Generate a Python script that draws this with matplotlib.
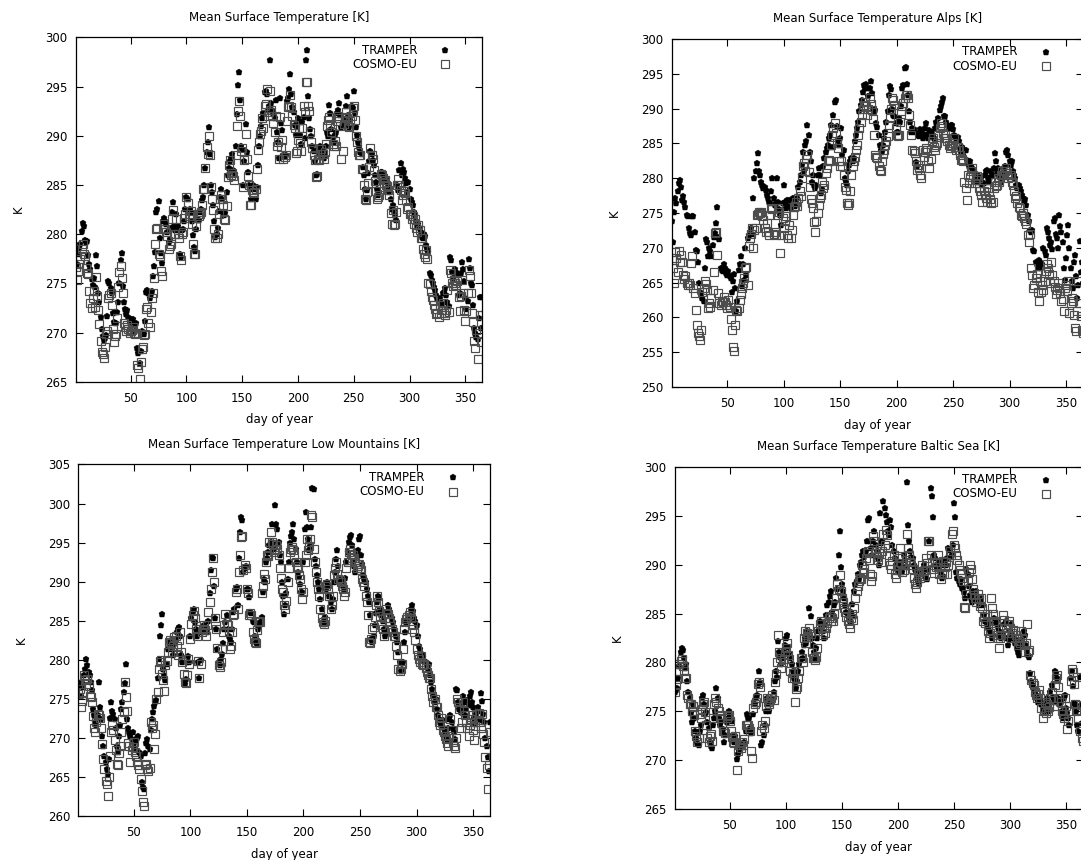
import numpy as np
import matplotlib
matplotlib.use("Agg")
import matplotlib.pyplot as plt

# daily mean surface temperature [K], day 1..365
tramper_all = [
278.3, 277.0, 278.0, 278.6, 279.0, 280.3, 281.1, 280.8, 279.4, 279.2,
279.3, 277.9, 277.0, 276.5, 275.4, 274.8, 275.5, 274.6, 277.9, 276.8,
274.0, 273.1, 271.6, 270.4, 269.6, 269.2, 269.4, 269.7, 271.7, 275.2,
275.0, 274.5, 274.0, 272.0, 271.1, 272.1, 271.0, 272.1, 273.1, 275.0,
277.4, 278.1, 274.7, 273.1, 272.4, 271.9, 272.3, 271.6, 271.1, 271.4,
271.1, 271.4, 270.8, 270.2, 271.0, 268.4, 267.9, 266.9, 268.1, 270.2,
270.0, 269.8, 271.2, 274.1, 274.3, 274.0, 273.5, 273.9, 274.2, 275.7,
276.8, 278.2, 282.3, 282.6, 283.4, 279.6, 278.1, 277.1, 281.3, 281.6,
281.3, 281.0, 280.2, 279.2, 279.5, 280.6, 282.3, 283.3, 280.8, 280.4,
282.0, 280.8, 280.4, 278.0, 277.7, 280.4, 280.5, 281.3, 282.6, 283.8,
283.6, 282.5, 282.6, 282.3, 281.3, 279.9, 278.7, 278.3, 280.5, 281.4,
281.4, 282.3, 282.6, 283.5, 283.8, 285.0, 286.7, 288.4, 289.4, 290.9,
288.2, 285.0, 284.3, 283.0, 281.3, 279.7, 280.0, 280.6, 282.4, 283.8,
284.6, 283.6, 282.3, 281.9, 282.2, 284.3, 286.0, 286.7, 287.4, 287.7,
288.2, 286.5, 286.2, 289.0, 292.2, 295.2, 296.5, 293.6, 289.0, 288.7,
285.0, 287.4, 291.2, 288.4, 286.3, 285.0, 284.6, 283.6, 284.8, 285.0,
284.6, 283.6, 284.8, 287.0, 289.0, 290.0, 291.0, 291.8, 292.3, 294.5,
294.6, 294.3, 292.6, 293.0, 297.7, 293.3, 292.6, 292.3, 291.8, 293.6,
290.4, 289.4, 287.7, 293.8, 291.3, 290.6, 288.0, 287.9, 288.1, 293.5,
293.8, 294.8, 296.3, 294.3, 292.9, 292.4, 291.1, 290.1, 290.9, 291.8,
291.5, 290.1, 289.2, 291.4, 291.9, 289.8, 297.7, 298.7, 294.0, 291.8,
290.7, 290.0, 289.0, 288.5, 287.4, 286.0, 286.1, 288.7, 288.2, 289.0,
287.9, 288.5, 287.7, 288.4, 289.0, 290.4, 290.0, 293.1, 292.3, 290.7,
289.9, 289.4, 290.1, 290.4, 292.3, 292.6, 293.3, 292.1, 290.9, 291.2,
291.6, 291.2, 293.0, 294.0, 292.1, 290.9, 291.6, 293.0, 292.8, 294.6,
292.3, 290.9, 290.1, 289.4, 288.9, 288.4, 288.2, 286.8, 286.0, 284.6,
283.6, 284.5, 286.2, 287.4, 288.5, 288.2, 287.5, 287.0, 286.0, 285.3,
284.6, 284.0, 284.3, 286.3, 286.3, 286.0, 285.7, 285.5, 285.6, 285.3,
284.8, 284.3, 283.6, 282.6, 283.0, 282.4, 281.9, 281.4, 285.0, 284.5,
286.5, 287.2, 286.0, 286.6, 286.3, 285.7, 285.2, 284.3, 285.3, 284.6,
283.6, 283.3, 283.0, 282.3, 281.9, 281.3, 280.7, 281.0, 280.6, 280.2,
279.7, 279.6, 280.0, 279.8, 278.9, 278.5, 278.2, 276.0, 275.8, 275.3,
275.0, 274.6, 274.3, 273.8, 273.5, 273.1, 273.5, 272.8, 273.0, 274.0,
274.1, 274.5, 273.8, 273.1, 272.7, 277.7, 277.4, 276.2, 275.5, 276.3,
276.5, 276.2, 275.8, 273.8, 274.0, 276.0, 277.2, 276.5, 275.2, 273.5,
272.4, 273.2, 277.5, 276.6, 275.0, 274.8, 272.8, 270.5, 270.0, 269.5,
269.3, 271.5, 273.6, 270.5, 273.6]

cosmo_all = [
276.7, 275.3, 276.3, 277.0, 277.5, 278.5, 279.0, 278.0, 277.8, 276.6,
276.0, 275.9, 274.2, 273.0, 272.5, 273.5, 274.2, 272.6, 275.6, 273.7,
272.3, 270.9, 269.1, 268.0, 267.8, 267.4, 268.5, 269.8, 270.2, 273.5,
273.8, 274.0, 272.8, 270.4, 269.0, 269.6, 269.8, 271.5, 274.6, 276.2,
276.8, 275.5, 274.0, 271.0, 270.6, 270.2, 270.8, 270.4, 270.0, 270.2,
270.3, 270.6, 270.0, 269.8, 270.0, 266.7, 266.4, 265.3, 267.0, 268.3,
268.5, 269.7, 269.8, 272.4, 272.6, 271.0, 270.6, 272.1, 273.5, 274.0,
275.5, 279.0, 280.5, 280.6, 278.0, 277.8, 276.3, 275.7, 280.5, 281.0,
280.5, 280.2, 279.8, 278.5, 278.8, 279.0, 281.5, 282.5, 280.0, 280.0,
281.5, 280.0, 279.6, 277.8, 277.4, 280.0, 280.2, 281.6, 282.0, 283.8,
283.2, 281.8, 282.0, 282.4, 281.0, 279.0, 278.0, 278.0, 280.8, 282.0,
281.8, 282.0, 282.3, 283.0, 284.6, 284.6, 286.7, 288.9, 288.2, 290.0,
288.0, 284.8, 283.6, 282.5, 280.5, 279.6, 279.6, 280.0, 282.0, 283.6,
284.0, 283.6, 283.0, 281.5, 281.4, 282.9, 285.8, 287.0, 287.5, 286.0,
286.2, 285.9, 285.5, 288.0, 291.0, 292.5, 293.5, 292.0, 288.5, 288.8,
284.8, 287.5, 290.2, 287.6, 285.9, 285.0, 283.0, 283.0, 284.5, 284.2,
284.3, 284.6, 286.6, 288.6, 289.4, 290.2, 290.5, 291.8, 290.8, 293.0,
293.2, 294.8, 292.0, 292.4, 294.6, 292.6, 292.0, 291.3, 290.4, 292.0,
289.0, 289.4, 287.6, 291.9, 288.9, 289.6, 287.6, 287.8, 288.0, 291.5,
292.9, 293.0, 294.2, 292.9, 292.0, 291.1, 290.8, 288.3, 288.5, 289.6,
290.8, 289.3, 288.5, 290.8, 293.0, 292.4, 295.5, 295.5, 293.0, 292.5,
290.4, 289.4, 288.8, 288.0, 287.5, 285.8, 285.9, 287.6, 287.5, 288.2,
288.7, 288.2, 287.6, 288.4, 289.2, 291.0, 291.6, 291.9, 291.2, 290.4,
289.2, 289.0, 289.5, 289.0, 291.5, 292.0, 291.8, 291.0, 287.6, 288.5,
291.2, 291.9, 292.4, 291.8, 291.0, 290.9, 291.5, 292.0, 292.8, 293.0,
291.6, 290.0, 289.4, 288.4, 288.1, 288.0, 286.6, 286.6, 285.0, 283.6,
283.5, 284.3, 285.2, 286.8, 288.8, 288.0, 287.6, 286.5, 285.4, 284.4,
283.6, 283.8, 284.0, 286.1, 286.0, 285.7, 285.2, 285.5, 285.0, 284.9,
284.5, 284.0, 282.2, 281.0, 282.5, 280.9, 281.0, 282.3, 285.0, 285.6,
285.0, 284.5, 283.5, 284.0, 284.4, 284.2, 283.5, 282.6, 282.8, 282.0,
282.0, 281.5, 281.8, 281.0, 281.5, 280.6, 280.2, 280.9, 280.4, 279.6,
279.6, 278.5, 278.0, 277.7, 278.4, 277.5, 275.0, 274.9, 274.2, 273.6,
273.3, 272.8, 272.4, 271.9, 272.0, 271.6, 272.8, 272.0, 272.3, 273.0,
272.0, 271.8, 272.3, 274.3, 272.1, 276.4, 276.0, 275.0, 274.7, 275.3,
275.0, 274.8, 275.2, 273.6, 272.2, 273.7, 275.3, 274.0, 272.3, 271.2,
272.2, 274.0, 276.4, 275.7, 274.0, 272.0, 271.1, 269.1, 268.4, 270.3,
267.3, 270.0, 271.8, 269.0, 271.8]

tramper_alps = [
273.8, 270.9, 275.2, 277.1, 276.5, 278.1, 279.3, 279.8, 278.8, 276.9,
277.4, 276.6, 275.9, 274.7, 274.5, 272.8, 272.1, 271.9, 274.5, 274.6,
272.3, 269.7, 269.5, 268.0, 264.9, 263.7, 263.3, 262.8, 262.3, 267.1,
271.2, 270.9, 268.8, 270.0, 269.5, 268.8, 270.4, 271.6, 272.1, 273.5,
275.9, 271.6, 271.2, 267.1, 266.8, 266.6, 267.6, 267.1, 266.4, 266.1,
266.6, 266.0, 265.6, 263.7, 265.2, 266.2, 264.2, 260.9, 262.3, 266.8,
267.6, 268.8, 264.5, 267.6, 265.4, 270.0, 266.1, 271.4, 271.9, 272.3,
272.8, 272.0, 277.1, 280.0, 281.0, 282.2, 283.6, 281.0, 280.5, 279.5,
279.0, 278.6, 278.8, 278.3, 277.6, 277.1, 276.6, 276.4, 278.1, 280.0,
277.1, 276.2, 276.4, 280.0, 276.6, 275.5, 274.7, 273.3, 276.4, 279.0,
276.6, 275.7, 276.8, 276.0, 276.8, 275.7, 276.2, 277.1, 276.8, 276.0,
276.8, 277.1, 278.8, 279.5, 280.5, 281.9, 283.8, 281.0, 284.8, 285.3,
287.7, 286.2, 283.8, 282.4, 279.5, 280.5, 279.0, 278.6, 279.0, 280.5,
281.5, 280.5, 277.8, 278.5, 281.7, 282.9, 283.8, 284.3, 284.8, 285.7,
286.2, 287.7, 284.5, 289.1, 291.0, 291.2, 287.5, 285.5, 284.8, 285.7,
287.2, 283.3, 284.0, 280.0, 279.5, 279.0, 281.0, 281.9, 282.4, 282.9,
282.4, 282.9, 285.3, 286.2, 287.2, 288.1, 289.6, 290.5, 291.2, 292.4,
293.4, 292.9, 293.6, 292.9, 291.8, 293.0, 293.9, 292.2, 290.0, 289.6,
289.8, 287.9, 287.4, 286.2, 284.8, 284.1, 283.8, 284.8, 285.7, 286.7,
288.1, 289.6, 292.0, 293.2, 292.8, 290.0, 289.1, 288.9, 287.9, 286.7,
286.7, 288.6, 288.0, 290.3, 292.9, 293.4, 295.8, 296.0, 293.6, 292.0,
289.6, 288.1, 286.7, 287.2, 287.0, 286.7, 282.3, 281.7, 286.2, 286.0,
287.0, 286.7, 285.7, 286.4, 287.2, 287.9, 286.2, 285.7, 286.9, 286.0,
286.7, 286.2, 285.7, 287.2, 288.1, 287.7, 288.6, 289.8, 290.3, 291.0,
291.5, 289.0, 288.9, 288.0, 287.7, 287.2, 287.5, 287.7, 287.7, 287.0,
286.2, 286.0, 285.7, 285.9, 285.3, 284.3, 283.8, 284.5, 283.3, 284.0,
284.1, 282.6, 282.2, 281.7, 282.5, 281.7, 281.4, 281.0, 280.5, 280.0,
279.5, 280.3, 280.3, 279.5, 280.0, 279.0, 279.3, 280.5, 281.0, 281.2,
280.0, 279.5, 280.2, 281.0, 280.5, 281.4, 283.6, 282.4, 281.0, 281.5,
280.3, 279.5, 280.0, 280.5, 281.4, 281.8, 283.8, 284.0, 283.3, 282.4,
281.9, 282.5, 281.0, 280.5, 280.0, 279.0, 278.6, 279.0, 278.6, 278.1,
277.6, 277.1, 276.6, 277.0, 276.2, 274.7, 273.8, 272.6, 272.3, 272.5,
269.7, 269.5, 268.0, 267.6, 267.1, 268.3, 268.0, 267.1, 267.6, 270.0,
269.5, 269.0, 272.8, 272.3, 271.4, 270.4, 270.9, 269.8, 273.8, 274.3,
272.0, 271.4, 270.0, 274.7, 273.1, 272.3, 270.9, 267.1, 265.4, 268.5,
271.9, 273.3, 270.0, 267.1, 265.2, 264.2, 268.0, 269.0, 266.0, 262.8,
264.7, 271.0, 266.5, 268.0, 265.0]

cosmo_alps = [
268.3, 267.1, 265.0, 269.4, 268.5, 266.5, 269.5, 268.0, 269.0, 268.0,
266.1, 265.5, 266.0, 264.9, 264.7, 265.0, 264.7, 267.8, 268.8, 264.2,
263.5, 261.1, 258.9, 257.8, 257.3, 256.8, 258.2, 263.7, 264.2, 265.2,
264.8, 264.0, 261.3, 262.0, 261.5, 262.8, 264.0, 266.5, 272.1, 272.3,
269.0, 263.5, 262.0, 261.8, 262.4, 262.2, 263.0, 262.2, 261.8, 261.4,
262.5, 261.5, 259.7, 258.2, 255.8, 255.1, 258.9, 261.0, 260.9, 261.3,
262.5, 263.3, 264.2, 264.9, 265.6, 267.1, 267.3, 264.6, 270.2, 271.4,
272.0, 272.8, 270.0, 272.5, 272.8, 274.7, 274.9, 275.2, 275.0, 275.2,
274.5, 274.0, 272.8, 272.3, 273.5, 272.3, 271.9, 274.7, 275.7, 275.5,
272.0, 272.3, 271.9, 274.7, 275.7, 275.2, 269.2, 271.9, 274.3, 272.8,
273.8, 274.5, 271.9, 271.4, 273.3, 271.4, 272.5, 274.7, 275.9, 276.0,
276.6, 276.0, 277.1, 278.1, 277.5, 280.0, 281.7, 282.2, 281.0, 282.8,
283.3, 280.9, 278.8, 277.0, 276.4, 275.7, 273.7, 272.3, 273.9, 275.0,
276.2, 277.1, 277.6, 279.5, 278.6, 279.0, 280.7, 281.4, 282.4, 282.6,
282.4, 284.8, 286.2, 287.2, 287.9, 286.5, 285.0, 284.3, 282.4, 281.7,
282.4, 281.7, 280.5, 278.8, 278.3, 276.4, 276.2, 276.4, 278.1, 280.5,
281.7, 282.4, 283.0, 284.1, 284.8, 286.2, 287.2, 288.1, 289.1, 290.0,
290.5, 291.0, 290.3, 289.1, 290.0, 291.5, 290.6, 289.8, 288.5, 286.2,
283.3, 283.0, 282.9, 281.7, 281.2, 281.0, 282.4, 283.5, 284.0, 284.8,
285.3, 286.0, 287.7, 288.6, 290.0, 291.5, 291.2, 290.5, 287.2, 286.2,
286.0, 286.2, 288.1, 289.6, 290.3, 290.8, 291.5, 292.0, 292.0, 291.5,
289.1, 287.7, 286.2, 284.1, 283.9, 283.6, 282.4, 281.2, 281.9, 281.4,
280.5, 280.0, 284.1, 283.0, 283.8, 284.3, 284.0, 282.4, 281.4, 282.8,
285.3, 285.7, 284.5, 284.1, 284.8, 285.0, 286.2, 287.2, 287.9, 287.5,
286.5, 285.8, 286.2, 285.7, 285.3, 284.8, 284.3, 284.6, 284.8, 285.0,
285.7, 284.5, 284.1, 284.5, 284.1, 283.3, 282.6, 282.8, 282.4, 279.5,
278.6, 276.9, 280.5, 279.3, 280.2, 281.0, 281.4, 280.5, 279.3, 279.8,
280.3, 280.0, 278.6, 278.1, 277.6, 276.6, 278.1, 277.6, 277.1, 276.6,
278.6, 278.0, 277.0, 276.4, 276.6, 278.6, 279.5, 278.9, 279.0, 280.0,
279.5, 280.5, 281.0, 280.5, 280.5, 281.0, 281.4, 280.7, 280.0, 280.4,
280.2, 279.5, 279.0, 278.1, 277.1, 277.5, 276.4, 275.9, 275.7, 274.7,
274.5, 275.0, 274.3, 273.8, 273.4, 271.9, 270.9, 272.0, 267.1, 266.1,
264.2, 264.7, 265.6, 266.3, 263.7, 262.3, 265.2, 263.7, 264.6, 264.0,
265.2, 266.6, 267.6, 267.1, 266.2, 265.0, 268.0, 266.1, 265.2, 264.4,
263.3, 264.0, 265.0, 264.2, 263.5, 262.3, 262.6, 260.9, 264.2, 264.7,
263.8, 265.2, 260.6, 262.0, 262.8, 262.3, 260.4, 258.5, 258.0, 260.9,
265.2, 262.1, 260.2, 258.2, 257.7]

tramper_low = [
277.1, 276.7, 275.4, 277.0, 276.5, 278.0, 278.8, 280.1, 279.3, 278.4,
278.0, 277.1, 276.1, 273.7, 272.9, 272.0, 271.6, 272.9, 277.1, 273.9,
272.4, 270.3, 269.0, 267.7, 266.9, 266.0, 265.4, 267.3, 272.6, 274.6,
273.5, 273.0, 272.4, 271.2, 269.0, 268.2, 270.3, 271.6, 273.7, 274.6,
275.9, 277.0, 279.5, 272.4, 271.2, 270.7, 270.3, 269.9, 270.7, 269.4,
268.6, 269.7, 270.0, 270.3, 268.2, 267.7, 264.3, 263.7, 263.5, 268.0,
269.4, 269.9, 269.0, 268.6, 271.0, 272.4, 273.3, 274.1, 274.6, 274.8,
277.6, 280.1, 283.1, 284.4, 285.9, 278.8, 278.0, 277.4, 279.5, 281.4,
282.1, 282.3, 282.5, 281.4, 280.6, 282.0, 282.7, 283.5, 284.0, 284.2,
283.1, 280.6, 279.7, 277.1, 276.9, 277.5, 279.7, 280.5, 279.7, 283.1,
285.3, 286.1, 286.5, 284.8, 284.0, 283.1, 279.7, 277.6, 280.0, 283.5,
284.0, 284.4, 283.8, 284.2, 283.5, 285.0, 288.5, 291.5, 293.2, 293.0,
289.5, 285.3, 284.0, 281.4, 279.7, 279.3, 280.1, 280.8, 282.1, 284.0,
284.8, 285.7, 284.0, 283.1, 282.7, 282.3, 284.0, 286.1, 286.5, 289.1,
289.3, 287.0, 293.0, 296.4, 298.3, 297.9, 291.2, 291.7, 292.0, 289.1,
289.1, 288.0, 286.1, 286.0, 285.0, 284.8, 283.1, 282.3, 282.0, 284.0,
284.4, 284.8, 285.5, 288.7, 290.4, 290.0, 292.5, 293.0, 293.8, 294.7,
295.1, 297.4, 295.0, 294.2, 299.8, 297.4, 296.8, 295.1, 293.4, 292.5,
290.0, 288.2, 285.9, 287.0, 288.5, 290.4, 292.5, 294.9, 295.9, 296.4,
297.4, 295.5, 294.2, 292.5, 291.2, 290.6, 289.7, 288.7, 288.7, 292.5,
296.8, 298.9, 297.0, 295.5, 294.0, 294.5, 297.0, 302.0, 301.9, 292.9,
292.0, 290.8, 290.0, 289.1, 287.8, 286.5, 284.8, 284.6, 285.5, 289.1,
290.0, 289.5, 288.2, 287.4, 286.5, 287.8, 290.0, 291.2, 292.9, 294.0,
292.0, 290.4, 290.2, 290.0, 289.5, 288.9, 290.5, 292.5, 293.8, 295.1,
295.7, 296.0, 294.7, 292.5, 292.0, 291.2, 293.4, 294.0, 295.5, 295.8,
293.4, 292.3, 290.8, 290.4, 290.0, 289.1, 288.2, 287.4, 285.7, 282.7,
282.3, 283.1, 284.4, 286.0, 287.4, 288.2, 288.0, 286.5, 285.7, 285.0,
284.0, 283.1, 283.5, 286.1, 287.0, 286.5, 285.7, 285.3, 284.8, 284.0,
283.6, 283.1, 282.3, 281.0, 279.7, 278.6, 278.8, 279.7, 282.3, 283.5,
284.8, 285.0, 285.5, 285.7, 286.5, 287.0, 286.3, 285.3, 285.0, 284.4,
283.1, 281.8, 281.4, 280.6, 280.8, 280.3, 279.9, 279.7, 279.3, 278.8,
279.5, 278.0, 277.1, 276.3, 275.4, 274.6, 275.0, 273.7, 272.9, 272.4,
272.0, 271.6, 272.3, 271.2, 270.7, 270.3, 269.9, 271.2, 272.4, 272.9,
272.0, 271.2, 270.7, 269.8, 276.3, 276.1, 274.6, 273.7, 273.3, 274.0,
275.4, 274.6, 272.9, 273.7, 274.9, 274.2, 275.4, 275.9, 274.6, 273.9,
272.5, 271.8, 273.0, 274.0, 273.5, 272.3, 275.7, 274.7, 273.0, 272.0,
270.0, 268.9, 267.5, 265.7, 272.0]

cosmo_low = [
275.6, 276.3, 273.9, 274.7, 275.9, 278.0, 277.4, 276.9, 277.5, 276.6,
275.4, 275.2, 274.6, 272.8, 271.2, 270.7, 272.0, 273.0, 272.9, 272.5,
271.2, 269.2, 267.3, 266.0, 264.5, 264.1, 262.6, 265.0, 267.7, 270.7,
271.6, 271.0, 269.7, 268.4, 266.7, 266.5, 268.0, 269.0, 270.7, 272.4,
273.3, 277.1, 275.2, 273.5, 269.4, 269.0, 266.9, 268.5, 268.8, 269.5,
268.2, 267.7, 266.9, 266.5, 266.0, 264.7, 263.2, 261.8, 261.3, 266.5,
266.7, 266.0, 265.8, 266.2, 272.0, 271.2, 271.6, 268.6, 270.5, 275.0,
275.9, 278.8, 279.7, 280.0, 278.2, 277.4, 276.0, 279.3, 279.9, 281.0,
282.3, 282.5, 282.1, 281.0, 281.7, 282.9, 283.1, 281.8, 280.6, 282.5,
283.5, 281.0, 279.7, 278.2, 277.1, 277.0, 278.0, 280.1, 279.5, 282.7,
284.6, 285.7, 286.2, 285.3, 284.0, 283.1, 279.9, 277.6, 279.5, 283.5,
284.0, 284.4, 283.8, 283.1, 284.5, 286.1, 287.4, 289.1, 291.2, 293.0,
290.0, 285.3, 284.0, 281.5, 279.3, 279.1, 279.7, 281.4, 283.5, 284.4,
285.9, 284.6, 284.4, 283.5, 281.4, 281.8, 283.5, 285.7, 285.9, 288.7,
289.1, 286.5, 291.2, 293.4, 295.7, 295.9, 291.5, 292.1, 291.8, 289.1,
288.5, 285.7, 286.0, 285.7, 283.5, 282.7, 282.3, 282.1, 283.8, 284.8,
285.0, 284.8, 288.5, 289.5, 291.0, 290.3, 292.5, 293.4, 293.3, 295.1,
296.4, 295.1, 294.8, 293.8, 294.0, 294.7, 294.2, 293.4, 291.7, 290.5,
289.1, 288.7, 287.0, 286.5, 287.5, 290.0, 291.7, 293.8, 294.2, 294.4,
294.0, 293.4, 292.5, 292.0, 291.7, 290.8, 290.4, 289.1, 287.8, 288.7,
292.5, 293.4, 295.5, 294.0, 294.5, 295.5, 298.5, 298.3, 294.2, 292.5,
291.2, 290.0, 289.0, 288.2, 286.5, 285.3, 284.8, 284.6, 285.0, 289.5,
289.7, 289.1, 288.2, 286.5, 287.0, 288.2, 290.8, 291.7, 292.5, 291.0,
290.4, 290.2, 290.0, 289.5, 289.1, 288.2, 288.7, 291.7, 292.5, 293.8,
294.2, 293.5, 293.0, 293.4, 293.0, 292.5, 291.7, 292.0, 292.2, 291.7,
291.5, 290.4, 290.0, 289.5, 288.2, 287.4, 285.7, 282.3, 282.1, 282.7,
284.0, 284.2, 285.5, 287.0, 288.2, 287.4, 286.3, 285.6, 284.4, 284.0,
283.1, 285.3, 286.5, 286.0, 285.9, 285.3, 284.8, 284.0, 283.5, 283.1,
283.0, 281.8, 280.6, 278.8, 278.5, 278.8, 279.5, 281.4, 284.0, 284.8,
285.2, 285.5, 285.7, 286.1, 285.3, 284.0, 284.5, 283.5, 282.5, 281.4,
280.6, 280.1, 279.7, 280.5, 279.5, 279.3, 279.5, 279.0, 278.4, 278.0,
277.6, 277.6, 276.3, 275.4, 274.6, 275.0, 274.0, 273.9, 272.9, 272.0,
271.6, 272.5, 271.0, 270.7, 270.3, 269.9, 269.4, 269.0, 270.3, 272.4,
271.0, 269.5, 269.0, 268.7, 270.0, 275.0, 274.6, 273.7, 271.2, 272.0,
274.6, 273.5, 272.9, 272.0, 271.2, 270.3, 271.6, 272.4, 272.9, 271.0,
269.7, 271.5, 273.0, 272.3, 273.2, 272.0, 271.2, 273.0, 270.5, 269.5,
267.6, 266.2, 263.5, 266.5, 270.8]

tramper_baltic = [
277.0, 277.2, 277.4, 278.4, 279.6, 281.1, 281.5, 281.3, 280.5, 279.4,
279.8, 278.1, 277.0, 276.4, 274.8, 273.9, 275.7, 274.3, 273.0, 272.3,
271.8, 271.6, 273.0, 273.6, 276.4, 276.7, 275.7, 274.7, 274.9, 273.9,
273.3, 271.9, 271.4, 271.2, 273.6, 274.3, 275.0, 277.4, 276.4, 274.3,
273.6, 274.0, 273.0, 273.2, 271.9, 272.6, 273.9, 274.3, 275.0, 274.5,
274.3, 274.0, 272.6, 271.9, 272.5, 270.1, 270.6, 270.9, 271.3, 271.6,
271.4, 271.3, 271.9, 273.0, 274.7, 274.3, 274.3, 273.3, 272.8, 273.2,
274.7, 275.7, 276.4, 276.7, 277.7, 279.1, 278.0, 271.6, 271.9, 272.6,
273.6, 275.0, 276.4, 275.7, 275.0, 275.9, 276.4, 276.0, 277.0, 278.1,
279.1, 278.5, 282.2, 281.1, 280.6, 279.8, 280.5, 281.1, 281.8, 282.5,
282.8, 281.6, 281.0, 280.5, 279.8, 279.1, 278.4, 277.9, 277.4, 278.1,
279.1, 279.8, 280.3, 281.1, 280.5, 281.8, 282.5, 282.0, 283.2, 283.0,
285.6, 284.8, 282.5, 281.8, 281.1, 280.5, 281.5, 282.5, 283.2, 284.2,
283.8, 283.9, 283.2, 282.5, 283.9, 284.9, 285.9, 286.2, 286.8, 287.3,
285.2, 284.9, 285.9, 286.2, 288.6, 287.5, 291.0, 293.4, 289.8, 288.0,
287.3, 286.6, 285.9, 285.2, 284.9, 284.5, 284.2, 285.2, 286.0, 284.8,
287.3, 288.0, 288.3, 289.0, 288.5, 290.0, 290.3, 291.0, 291.4, 290.8,
291.4, 292.4, 294.6, 294.8, 292.4, 291.7, 291.0, 292.4, 293.4, 292.0,
291.4, 290.7, 290.0, 295.3, 292.2, 292.4, 296.5, 295.8, 295.1, 294.4,
293.4, 293.0, 294.6, 293.9, 292.0, 291.4, 290.7, 290.0, 289.6, 290.2,
289.3, 290.3, 290.0, 289.3, 291.0, 290.5, 289.8, 298.5, 294.1, 292.4,
291.4, 290.8, 290.7, 290.0, 289.6, 289.3, 288.6, 288.3, 288.0, 289.0,
289.6, 289.2, 290.0, 289.5, 288.6, 288.5, 289.6, 292.4, 297.8, 297.0,
294.9, 291.0, 290.7, 290.0, 289.6, 289.8, 290.3, 289.3, 288.6, 288.8,
290.0, 290.5, 290.0, 290.7, 291.7, 291.5, 290.8, 291.0, 292.0, 296.3,
294.9, 289.3, 288.6, 288.3, 288.0, 288.5, 287.6, 287.6, 287.2, 286.6,
289.6, 289.0, 287.8, 286.9, 286.6, 286.2, 287.3, 287.0, 286.5, 287.3,
286.6, 285.9, 286.2, 286.6, 286.0, 285.9, 284.9, 284.2, 283.9, 283.5,
284.0, 283.2, 283.0, 282.5, 282.8, 284.5, 284.0, 284.2, 283.6, 283.2,
282.8, 282.5, 282.9, 283.0, 283.9, 284.2, 282.5, 281.8, 282.4, 283.2,
283.9, 282.8, 282.5, 282.0, 282.3, 281.5, 281.1, 280.8, 281.6, 281.9,
282.3, 283.2, 282.8, 281.8, 281.1, 280.8, 280.6, 278.9, 278.1, 277.7,
277.4, 277.0, 276.7, 276.4, 276.0, 276.5, 276.2, 275.7, 275.3, 275.0,
276.0, 275.6, 276.4, 275.8, 275.0, 277.0, 277.7, 276.5, 276.0, 279.1,
278.9, 278.4, 276.4, 275.7, 276.0, 275.0, 274.3, 276.4, 276.7, 275.3,
274.8, 274.3, 273.6, 278.4, 279.1, 277.6, 275.8, 275.7, 275.0, 273.6,
273.0, 278.5, 275.6, 273.8, 272.9]

cosmo_baltic = [
277.0, 277.7, 278.3, 279.1, 279.8, 280.1, 280.3, 279.6, 279.1, 278.4,
278.4, 276.7, 276.4, 275.7, 275.7, 275.0, 275.5, 274.6, 273.0, 272.5,
271.9, 272.3, 274.7, 274.3, 275.2, 275.7, 276.0, 274.9, 273.6, 272.3,
271.9, 272.5, 272.7, 272.0, 274.3, 275.7, 276.4, 276.0, 275.3, 275.0,
274.3, 274.6, 273.8, 273.0, 273.0, 272.8, 274.3, 274.5, 274.6, 274.0,
273.0, 272.4, 271.9, 271.8, 272.5, 269.0, 270.9, 271.6, 271.5, 271.2,
271.9, 271.6, 272.2, 273.6, 273.6, 273.6, 273.3, 273.0, 270.9, 270.2,
275.3, 275.7, 276.0, 276.4, 277.8, 278.0, 277.5, 273.0, 273.6, 273.3,
274.0, 275.5, 276.4, 276.0, 275.7, 276.2, 276.4, 276.7, 276.2, 278.0,
278.8, 280.0, 282.8, 281.1, 280.5, 279.4, 280.0, 280.4, 281.1, 281.5,
282.0, 280.8, 280.3, 279.1, 278.4, 278.9, 278.4, 276.0, 277.3, 277.5,
278.4, 279.1, 280.5, 280.5, 280.0, 282.5, 283.2, 282.0, 283.0, 282.6,
283.5, 282.9, 281.1, 280.5, 280.5, 280.2, 280.6, 281.5, 283.2, 283.9,
284.2, 283.5, 282.8, 283.5, 283.0, 283.5, 284.0, 284.5, 284.8, 284.2,
284.5, 284.2, 285.0, 285.9, 286.6, 288.0, 287.5, 288.9, 287.3, 286.6,
286.2, 285.6, 285.2, 284.6, 284.2, 283.9, 283.5, 284.5, 285.0, 284.3,
285.6, 286.6, 287.3, 287.8, 288.3, 288.6, 288.5, 290.0, 289.3, 289.6,
290.7, 291.2, 291.4, 290.5, 289.0, 288.3, 288.8, 292.9, 292.4, 291.4,
290.8, 290.5, 291.2, 291.7, 290.3, 291.4, 293.1, 292.0, 293.6, 293.0,
291.7, 291.0, 290.0, 289.6, 290.4, 291.0, 289.0, 288.6, 289.5, 290.0,
290.7, 291.7, 290.2, 289.3, 289.5, 290.0, 290.5, 293.1, 291.7, 291.0,
290.3, 290.0, 289.6, 288.6, 288.0, 287.6, 288.2, 289.0, 289.3, 288.6,
290.0, 289.4, 288.8, 289.5, 290.7, 290.2, 292.4, 292.4, 291.0, 290.3,
289.6, 289.2, 290.3, 289.8, 290.3, 291.0, 289.0, 288.5, 289.2, 290.4,
289.0, 289.8, 290.3, 289.0, 290.0, 291.4, 291.0, 293.1, 293.4, 292.0,
291.7, 291.0, 290.5, 290.0, 289.5, 289.0, 288.6, 288.3, 285.7, 285.6,
287.0, 288.3, 289.3, 290.0, 289.6, 288.5, 287.5, 286.9, 286.6, 286.2,
287.0, 286.5, 285.8, 286.6, 285.6, 284.2, 284.6, 284.0, 285.0, 283.2,
282.5, 283.0, 286.6, 285.6, 285.0, 284.2, 284.0, 282.8, 282.5, 281.5,
282.5, 282.8, 283.5, 284.9, 284.3, 283.5, 283.0, 283.9, 284.2, 283.5,
282.5, 283.0, 283.3, 283.2, 282.8, 282.5, 281.8, 282.2, 282.0, 283.2,
282.5, 281.8, 281.1, 282.0, 283.9, 281.1, 281.3, 278.7, 278.2, 277.9,
277.7, 277.0, 276.7, 276.4, 276.8, 277.2, 276.4, 275.3, 274.3, 275.0,
276.0, 274.8, 275.7, 275.0, 275.4, 276.4, 277.0, 276.2, 275.5, 277.7,
278.4, 278.7, 277.5, 276.4, 276.0, 275.0, 274.7, 274.3, 276.4, 275.5,
273.2, 274.0, 275.0, 278.1, 279.3, 279.0, 277.8, 275.7, 275.0, 278.5,
274.3, 273.0, 275.6, 272.3, 272.0]

titles = ["Mean Surface Temperature [K]",
          "Mean Surface Temperature Alps [K]",
          "Mean Surface Temperature Low Mountains [K]",
          "Mean Surface Temperature Baltic Sea [K]"]
tramper = [tramper_all, tramper_alps, tramper_low, tramper_baltic]
cosmo = [cosmo_all, cosmo_alps, cosmo_low, cosmo_baltic]
ylims = [(265, 300), (250, 300), (260, 305), (265, 300)]

# axes boxes in figure fractions (left, bottom, width, height)
boxes = [[0.0703, 0.5562, 0.3756, 0.4002],
         [0.6216, 0.5500, 0.3802, 0.4047],
         [0.0725, 0.0512, 0.3808, 0.4087],
         [0.6244, 0.0593, 0.3774, 0.3977]]

plt.rcParams['font.family'] = ['DejaVu Sans']
plt.rcParams['font.size'] = 8.5

fig = plt.figure(figsize=(10.81, 8.60), dpi=100)

dot = dict(linestyle='none', marker='p', ms=5.0, color='black', mec='black', mew=0.3)
box = dict(linestyle='none', marker='s', ms=5.4, mfc='none', mec='#4d4d4d', mew=0.85)

for i in range(4):
    ax = fig.add_axes(boxes[i])
    t = np.array(tramper[i])
    c = np.array(cosmo[i])
    ax.plot(np.arange(1, len(t) + 1), t, **dot)
    ax.plot(np.arange(1, len(c) + 1), c, **box)

    ax.set_xlim(1, 365)
    ax.set_ylim(ylims[i])
    ax.set_xticks(range(50, 351, 50))
    ax.set_yticks(range(ylims[i][0], ylims[i][1] + 1, 5))
    ax.tick_params(direction='in', top=True, right=True, length=5, width=0.8)
    ax.tick_params(axis='x', pad=7.5)
    ax.tick_params(axis='y', pad=6)
    for s in ax.spines.values():
        s.set_linewidth(0.9)

    ax.set_title(titles[i], pad=12, fontsize=8.5)
    ax.set_xlabel("day of year", labelpad=6)
    ax.set_ylabel("K", labelpad=14.5)

    # gnuplot style key, upper right, text right aligned left of the sample
    ax.text(0.84, 0.963, "TRAMPER", transform=ax.transAxes, ha='right', va='center')
    ax.text(0.84, 0.922, "COSMO-EU", transform=ax.transAxes, ha='right', va='center')
    ax.plot([0.91], [0.963], transform=ax.transAxes, **dot)
    ax.plot([0.91], [0.922], transform=ax.transAxes, **box)

fig.savefig("out.png", dpi=100)
